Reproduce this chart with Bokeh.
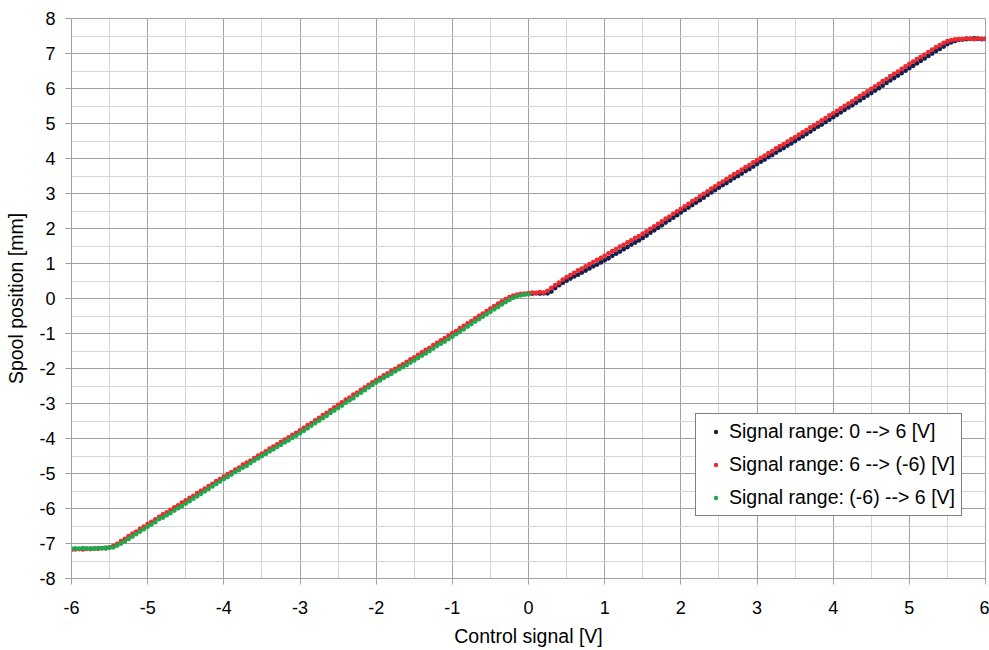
from bokeh.plotting import figure
from bokeh.models import (Range1d, SingleIntervalTicker, Legend, LegendItem,
                          ColumnDataSource, PrintfTickFormatter)
from bokeh.embed import file_html
from bokeh.resources import INLINE

# ---- data ----
signal_neg = [
    -6.00, -5.95, -5.90, -5.85, -5.80, -5.75, -5.70, -5.65, -5.60, -5.55,
    -5.50, -5.45, -5.40, -5.35, -5.30, -5.25, -5.20, -5.15, -5.10, -5.05,
    -5.00, -4.95, -4.90, -4.85, -4.80, -4.75, -4.70, -4.65, -4.60, -4.55,
    -4.50, -4.45, -4.40, -4.35, -4.30, -4.25, -4.20, -4.15, -4.10, -4.05,
    -4.00, -3.95, -3.90, -3.85, -3.80, -3.75, -3.70, -3.65, -3.60, -3.55,
    -3.50, -3.45, -3.40, -3.35, -3.30, -3.25, -3.20, -3.15, -3.10, -3.05,
    -3.00, -2.95, -2.90, -2.85, -2.80, -2.75, -2.70, -2.65, -2.60, -2.55,
    -2.50, -2.45, -2.40, -2.35, -2.30, -2.25, -2.20, -2.15, -2.10, -2.05,
    -2.00, -1.95, -1.90, -1.85, -1.80, -1.75, -1.70, -1.65, -1.60, -1.55,
    -1.50, -1.45, -1.40, -1.35, -1.30, -1.25, -1.20, -1.15, -1.10, -1.05,
    -1.00, -0.95, -0.90, -0.85, -0.80, -0.75, -0.70, -0.65, -0.60, -0.55,
    -0.50, -0.45, -0.40, -0.35, -0.30, -0.25, -0.20, -0.15, -0.10, -0.05,
    0.00,
]
signal_pos = [
    0.00, 0.05, 0.10, 0.15, 0.20, 0.25, 0.30, 0.35, 0.40, 0.45,
    0.50, 0.55, 0.60, 0.65, 0.70, 0.75, 0.80, 0.85, 0.90, 0.95,
    1.00, 1.05, 1.10, 1.15, 1.20, 1.25, 1.30, 1.35, 1.40, 1.45,
    1.50, 1.55, 1.60, 1.65, 1.70, 1.75, 1.80, 1.85, 1.90, 1.95,
    2.00, 2.05, 2.10, 2.15, 2.20, 2.25, 2.30, 2.35, 2.40, 2.45,
    2.50, 2.55, 2.60, 2.65, 2.70, 2.75, 2.80, 2.85, 2.90, 2.95,
    3.00, 3.05, 3.10, 3.15, 3.20, 3.25, 3.30, 3.35, 3.40, 3.45,
    3.50, 3.55, 3.60, 3.65, 3.70, 3.75, 3.80, 3.85, 3.90, 3.95,
    4.00, 4.05, 4.10, 4.15, 4.20, 4.25, 4.30, 4.35, 4.40, 4.45,
    4.50, 4.55, 4.60, 4.65, 4.70, 4.75, 4.80, 4.85, 4.90, 4.95,
    5.00, 5.05, 5.10, 5.15, 5.20, 5.25, 5.30, 5.35, 5.40, 5.45,
    5.50, 5.55, 5.60, 5.65, 5.70, 5.75, 5.80, 5.85, 5.90, 5.95,
    6.00,
]

# Signal range 0 --> 6 [V]  (on signal_pos)
up_pos_y = [
    0.13, 0.14, 0.15, 0.14, 0.15, 0.15, 0.20, 0.30, 0.38, 0.45,
    0.51, 0.57, 0.63, 0.68, 0.74, 0.80, 0.86, 0.92, 0.97, 1.03,
    1.09, 1.15, 1.22, 1.28, 1.34, 1.41, 1.47, 1.54, 1.60, 1.66,
    1.73, 1.80, 1.88, 1.95, 2.02, 2.09, 2.17, 2.24, 2.31, 2.38,
    2.46, 2.53, 2.60, 2.67, 2.74, 2.81, 2.88, 2.96, 3.03, 3.10,
    3.17, 3.24, 3.30, 3.37, 3.44, 3.50, 3.57, 3.64, 3.70, 3.77,
    3.84, 3.91, 3.97, 4.04, 4.10, 4.17, 4.24, 4.30, 4.37, 4.43,
    4.50, 4.57, 4.63, 4.70, 4.77, 4.84, 4.91, 4.97, 5.04, 5.11,
    5.18, 5.25, 5.32, 5.39, 5.46, 5.52, 5.59, 5.66, 5.73, 5.80,
    5.87, 5.94, 6.01, 6.08, 6.16, 6.23, 6.30, 6.37, 6.44, 6.51,
    6.58, 6.65, 6.72, 6.79, 6.86, 6.93, 7.00, 7.07, 7.13, 7.20,
    7.27, 7.32, 7.36, 7.39, 7.40, 7.41, 7.42, 7.43, 7.42, 7.41,
    7.42,
]

# Signal range 6 --> (-6) [V]: positive part (signal_pos without 0.00)
down_pos_y = [
    0.17, 0.16, 0.18, 0.17, 0.22, 0.30, 0.38, 0.45, 0.54, 0.61,
    0.67, 0.73, 0.80, 0.85, 0.92, 0.98, 1.04, 1.10, 1.16, 1.22,
    1.29, 1.35, 1.41, 1.48, 1.53, 1.60, 1.66, 1.73, 1.78, 1.85,
    1.92, 1.99, 2.06, 2.13, 2.20, 2.28, 2.34, 2.42, 2.49, 2.56,
    2.63, 2.70, 2.78, 2.84, 2.92, 2.99, 3.06, 3.14, 3.20, 3.28,
    3.34, 3.41, 3.48, 3.55, 3.61, 3.68, 3.75, 3.81, 3.89, 3.95,
    4.02, 4.08, 4.15, 4.21, 4.29, 4.35, 4.41, 4.48, 4.55, 4.61,
    4.68, 4.75, 4.81, 4.89, 4.95, 5.02, 5.09, 5.15, 5.23, 5.29,
    5.36, 5.43, 5.50, 5.57, 5.63, 5.71, 5.78, 5.85, 5.92, 5.99,
    6.06, 6.13, 6.21, 6.27, 6.35, 6.42, 6.48, 6.56, 6.63, 6.70,
    6.77, 6.84, 6.90, 6.97, 7.04, 7.11, 7.18, 7.24, 7.30, 7.35,
    7.38, 7.40, 7.41, 7.41, 7.43, 7.42, 7.41, 7.43, 7.42, 7.42,
]
# Signal range 6 --> (-6) [V]: negative part (on signal_neg)
down_neg_y = [
    -7.18, -7.17, -7.16, -7.17, -7.15, -7.16, -7.14, -7.15, -7.13, -7.14,
    -7.11, -7.07, -7.01, -6.93, -6.87, -6.79, -6.72, -6.66, -6.58, -6.52,
    -6.44, -6.38, -6.31, -6.24, -6.17, -6.11, -6.04, -5.97, -5.91, -5.83,
    -5.77, -5.70, -5.64, -5.56, -5.50, -5.43, -5.36, -5.30, -5.22, -5.16,
    -5.09, -5.02, -4.96, -4.89, -4.83, -4.75, -4.69, -4.63, -4.56, -4.49,
    -4.43, -4.37, -4.29, -4.23, -4.17, -4.10, -4.03, -3.97, -3.90, -3.84,
    -3.77, -3.70, -3.62, -3.56, -3.48, -3.41, -3.33, -3.27, -3.19, -3.11,
    -3.04, -2.97, -2.89, -2.83, -2.75, -2.69, -2.61, -2.54, -2.47, -2.40,
    -2.33, -2.27, -2.20, -2.14, -2.07, -2.01, -1.94, -1.88, -1.81, -1.74,
    -1.68, -1.61, -1.54, -1.47, -1.41, -1.33, -1.27, -1.20, -1.13, -1.06,
    -0.99, -0.93, -0.85, -0.78, -0.71, -0.65, -0.57, -0.50, -0.43, -0.36,
    -0.29, -0.22, -0.15, -0.08, -0.02, 0.04, 0.08, 0.11, 0.13, 0.14,
    0.15,
]

# Signal range (-6) --> 6 [V]  (on signal_neg)
back_neg_y = [
    -7.15, -7.14, -7.15, -7.13, -7.15, -7.14, -7.15, -7.13, -7.14, -7.12,
    -7.12, -7.11, -7.06, -7.00, -6.94, -6.87, -6.80, -6.73, -6.66, -6.59,
    -6.52, -6.46, -6.39, -6.30, -6.26, -6.19, -6.13, -6.06, -5.99, -5.93,
    -5.86, -5.79, -5.72, -5.65, -5.58, -5.51, -5.44, -5.37, -5.30, -5.23,
    -5.16, -5.10, -5.03, -4.96, -4.90, -4.83, -4.78, -4.70, -4.63, -4.57,
    -4.50, -4.44, -4.37, -4.31, -4.24, -4.18, -4.11, -4.05, -3.98, -3.92,
    -3.85, -3.78, -3.71, -3.63, -3.56, -3.49, -3.42, -3.35, -3.27, -3.20,
    -3.13, -3.06, -2.98, -2.91, -2.85, -2.76, -2.69, -2.62, -2.54, -2.47,
    -2.40, -2.34, -2.27, -2.21, -2.15, -2.08, -2.02, -1.96, -1.90, -1.83,
    -1.77, -1.70, -1.63, -1.57, -1.50, -1.43, -1.35, -1.29, -1.23, -1.16,
    -1.09, -1.02, -0.95, -0.88, -0.80, -0.73, -0.66, -0.59, -0.52, -0.45,
    -0.38, -0.31, -0.24, -0.17, -0.10, -0.04, 0.02, 0.06, 0.09, 0.11,
    0.12,
]

series_labels = [
    "Signal range: 0 --> 6 [V]",
    "Signal range: 6 --> (-6) [V]",
    "Signal range: (-6) --> 6 [V]",
]
series_colors = ["#14204f", "#ee2a2f", "#1fa84c"]

x_ticks_range = (-6, 6)
y_ticks_range = (-8, 8)

FONT = "Liberation Sans"

# ---- figure ----
p = figure(
    width=989, height=650,
    output_backend="svg", toolbar_location=None,
    x_range=Range1d(*x_ticks_range), y_range=Range1d(*y_ticks_range),
    min_border_left=71, min_border_right=4, min_border_top=18, min_border_bottom=72,
    background_fill_color="white", border_fill_color="white",
)
p.outline_line_color = "#a0a0a0"

for ax in (p.xaxis[0], p.yaxis[0]):
    ax.ticker = SingleIntervalTicker(interval=1, num_minor_ticks=2)
    ax.formatter = PrintfTickFormatter(format="%d")
    ax.axis_line_color = "#a0a0a0"
    ax.major_tick_line_color = "#a0a0a0"
    ax.major_tick_out = 6
    ax.major_tick_in = 0
    ax.minor_tick_out = 0
    ax.minor_tick_in = 0
    ax.major_label_text_font = FONT
    ax.major_label_text_font_size = "18px"
    ax.major_label_text_color = "#000000"
    ax.axis_label_text_font = FONT
    ax.axis_label_text_font_size = "19.5px"
    ax.axis_label_text_font_style = "normal"
    ax.axis_label_text_color = "#000000"

p.xaxis.axis_label = "Control signal [V]"
p.yaxis.axis_label = "Spool position [mm]"
p.xaxis.major_label_standoff = 16
p.xaxis.axis_label_standoff = 8
p.yaxis.major_label_standoff = 10
p.yaxis.axis_label_standoff = 9

for g in (p.xgrid[0], p.ygrid[0]):
    g.grid_line_color = "#a0a0a0"
    g.grid_line_width = 1
    g.minor_grid_line_color = "#d6d6d6"
    g.minor_grid_line_width = 1

up_src = ColumnDataSource(dict(x=signal_pos, y=up_pos_y))
down_src = ColumnDataSource(dict(
    x=signal_pos[1:][::-1] + signal_neg[::-1],
    y=down_pos_y[::-1] + down_neg_y[::-1],
))
back_src = ColumnDataSource(dict(x=signal_neg, y=back_neg_y))

r_up = p.scatter("x", "y", source=up_src, size=4.8, fill_color=series_colors[0], line_color=None)
r_down = p.scatter("x", "y", source=down_src, size=4.8, fill_color=series_colors[1], line_color=None)
r_back = p.scatter("x", "y", source=back_src, size=4.8, fill_color=series_colors[2], line_color=None)

legend = Legend(
    items=[
        LegendItem(label=series_labels[0], renderers=[r_up]),
        LegendItem(label=series_labels[1], renderers=[r_down]),
        LegendItem(label=series_labels[2], renderers=[r_back]),
    ],
    location=(624, 62),
    label_text_font=FONT, label_text_font_size="19.5px", label_text_color="#000000",
    border_line_color="#000000", border_line_width=1.5,
    background_fill_color="white", background_fill_alpha=1.0,
    padding=6, spacing=10, margin=0,
    glyph_width=27, glyph_height=11, label_height=23, label_standoff=0,
)
p.add_layout(legend)

open("out.html", "w").write(file_html(p, INLINE))
